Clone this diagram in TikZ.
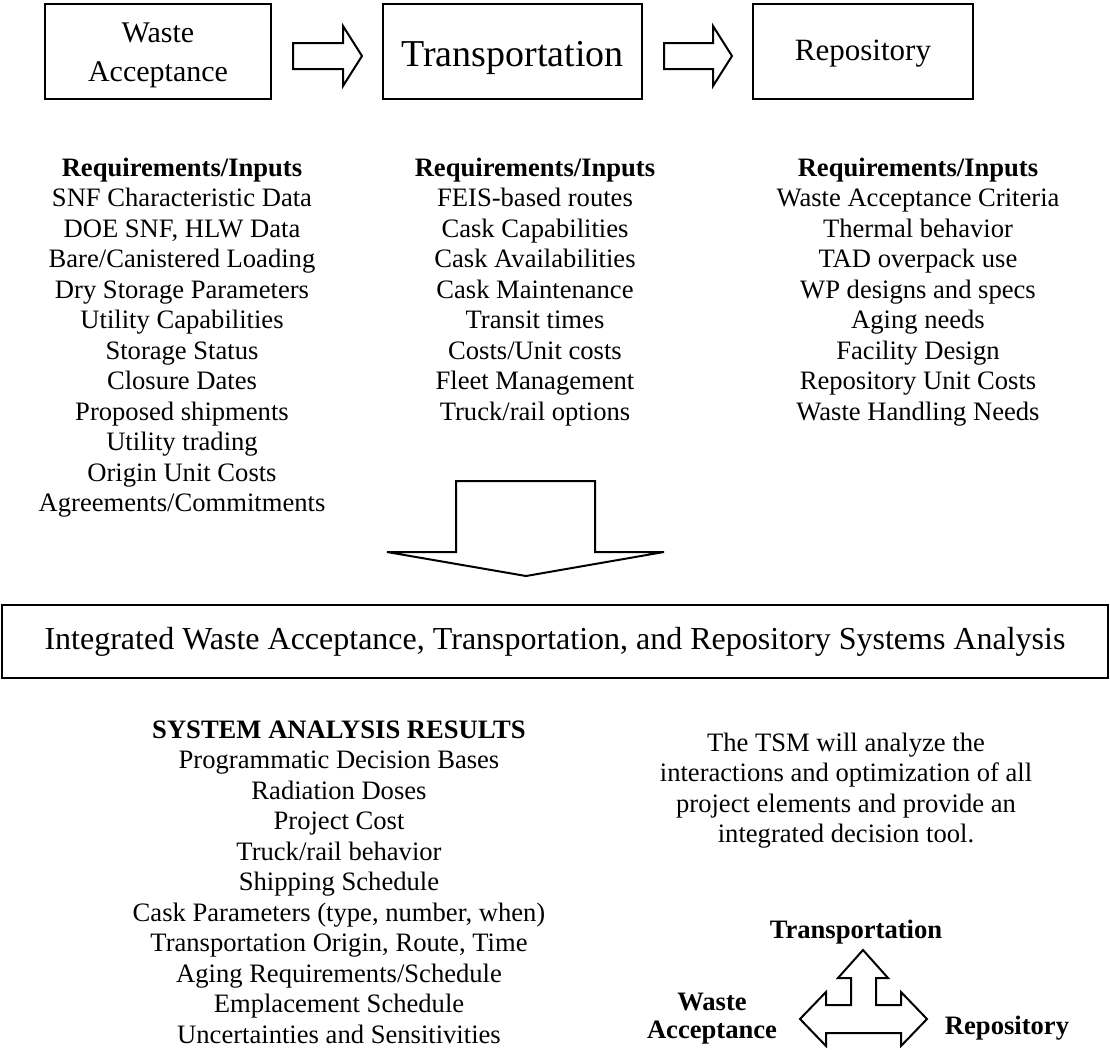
\documentclass[tikz,border=0pt]{standalone}
\usepackage{fontspec}
\setmainfont{Liberation Serif}
\usetikzlibrary{positioning}

\tikzset{
  stagebox/.style={draw, line width=1pt, inner sep=0pt, align=center,
    minimum height=47.5pt, font=\fontsize{15}{19.5}\selectfont},
  listtext/.style={align=center, inner sep=0pt, anchor=base,
    font=\fontsize{13.3}{15.25}\selectfont},
  tagtext/.style={align=center, inner sep=0pt, anchor=base,
    font=\fontsize{13.3}{14}\selectfont\bfseries},
  blockarrow/.style={draw, line width=1pt, line join=miter},
}

\begin{document}
\begin{tikzpicture}[x=0.5pt, y=-0.5pt]
    \useasboundingbox (0,0) rectangle (1110,1050);

    % Etapas de arriba
    \node[stagebox, minimum width=113pt] (wa) at (158,51.5)
        {\rule{0pt}{13.2pt}Waste\\Acceptance};
    \node[stagebox, minimum width=129.5pt, text height=14.5pt, text depth=0pt,
        font=\fontsize{19}{20}\selectfont] (tr) at (512.5,51.5) {Transportation};
    \node[stagebox, minimum width=110pt, text height=8.5pt, text depth=0pt,
        font=\fontsize{15.5}{18}\selectfont] (rep) at (863,51.5) {Repository};

    % Flechas huecas entre etapas
    \draw[blockarrow] (293,43) -- (343,43) -- (343,26) -- (362,56)
        -- (343,86) -- (343,69) -- (293,69) -- cycle;
    \draw[blockarrow] (664,43) -- (713,43) -- (713,26) -- (732,56)
        -- (713,86) -- (713,69) -- (664,69) -- cycle;

    % Requisitos de cada etapa (base = ultima linea)
    \node[listtext] (wareq) at (182,511.5) {\textbf{Requirements/Inputs}\\
        SNF Characteristic Data\\ DOE SNF, HLW Data\\ Bare/Canistered Loading\\
        Dry Storage Parameters\\ Utility Capabilities\\ Storage Status\\
        Closure Dates\\ Proposed shipments\\ Utility trading\\
        Origin Unit Costs\\ Agreements/Commitments};
    \node[listtext] (trreq) at (535,420) {\textbf{Requirements/Inputs}\\
        FEIS-based routes\\ Cask Capabilities\\ Cask Availabilities\\
        Cask Maintenance\\ Transit times\\ Costs/Unit costs\\
        Fleet Management\\ Truck/rail options};
    \node[listtext] (repreq) at (918,420) {\textbf{Requirements/Inputs}\\
        Waste Acceptance Criteria\\ Thermal behavior\\ TAD overpack use\\
        WP designs and specs\\ Aging needs\\ Facility Design\\
        Repository Unit Costs\\ Waste Handling Needs};

    % Flecha grande hacia el analisis
    \draw[blockarrow] (456,481) -- (595,481) -- (595,552) -- (664,552)
        -- (526,576) -- (387,552) -- (456,552) -- cycle;

    \node[stagebox, minimum width=553pt, minimum height=36.5pt,
        font=\fontsize{16}{19}\selectfont] (tsa) at (555,641.5)
        {Integrated Waste Acceptance, Transportation, and Repository Systems Analysis};

    % Resultados
    \node[listtext] (res) at (339,1043) {\textbf{SYSTEM ANALYSIS RESULTS}\\
        Programmatic Decision Bases\\ Radiation Doses\\ Project Cost\\
        Truck/rail behavior\\ Shipping Schedule\\
        Cask Parameters (type, number, when)\\
        Transportation Origin, Route, Time\\ Aging Requirements/Schedule\\
        Emplacement Schedule\\ Uncertainties and Sensitivities};

    \node[listtext] (note) at (846,842.5) {The TSM will analyze the\\
        interactions and optimization of all\\ project elements and provide an\\
        integrated decision tool.};

    % Flecha de tres puntas
    \draw[blockarrow] (863,950) -- (888,978) -- (876,978) -- (876,1005)
        -- (901,1005) -- (901,992) -- (927,1019) -- (901,1046) -- (901,1033)
        -- (826,1033) -- (826,1046) -- (800,1019) -- (826,992) -- (826,1005)
        -- (851,1005) -- (851,978) -- (838,978) -- cycle;
    \node[tagtext] (ttr)  at (856,938)  {Transportation};
    \node[tagtext] (twa)  at (712,1038) {Waste\\Acceptance};
    \node[tagtext] (trep) at (1007,1034) {Repository};
\end{tikzpicture}
\end{document}
